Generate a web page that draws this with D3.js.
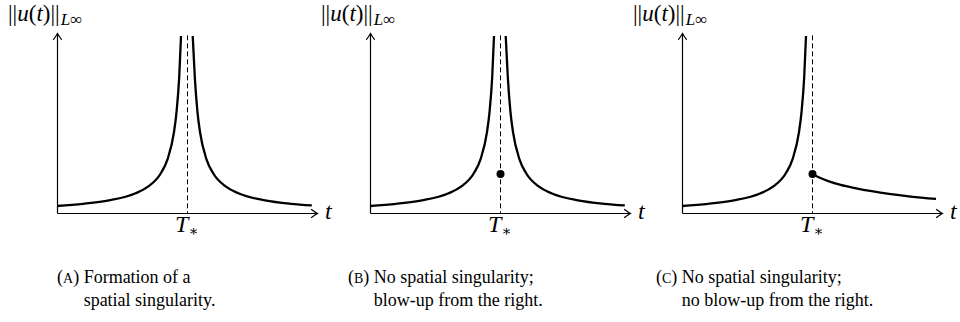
<!DOCTYPE html>
<html><head><meta charset="utf-8">
<script src="https://cdn.jsdelivr.net/npm/d3@7"></script>
<style>
html,body{margin:0;padding:0;background:#fff;}
svg{display:block;}
</style></head>
<body>
<svg id="chart" width="960" height="322"></svg>
<script>
// ---- data ----
const panels = ["A", "B", "C"];
const captionLine1 = ["Formation of a", "No spatial singularity;", "No spatial singularity;"];
const captionLine2 = ["spatial singularity.", "blow-up from the right.", "no blow-up from the right."];
const tStar = 5;
// left branch (blows up as t -> T*), shared by all panels
const tLeft = [0, 1, 2, 3, 3.5, 4, 4.25, 4.5, 4.6, 4.7, 4.77];
const vLeft = [0.39, 0.51, 0.70, 1.08, 1.46, 2.22, 2.98, 4.5, 5.65, 7.55, 9.83];
// right branch with blow-up (panels A, B)
const tRight = [5.22, 5.3, 5.4, 5.5, 5.75, 6, 6.5, 7, 8, 9, 9.8];
const vRight = [9.83, 7.55, 5.65, 4.5, 2.98, 2.22, 1.46, 1.08, 0.70, 0.51, 0.42];
// right branch without blow-up (panel C)
const tRightC = [5, 5.3, 5.65, 6.1, 6.7, 7.3, 7.96, 8.8, 9.77];
const vRightC = [2.17, 1.96, 1.76, 1.56, 1.37, 1.21, 1.06, 0.91, 0.78];
// value at T* (panels B, C)
const dotValue = 2.17;
const xMax = 10, yMax = 10, dashTop = 9.9;

// ---- layout ----
const RM = "'Liberation Serif', 'DejaVu Serif', serif";
const svg = d3.select("#chart");
const originsX = [57, 370, 682];
const axisY = 213, topY = 33, axisLen = 260;

function arrow(g, x, y, angle) {
  g.append("path")
    .attr("d", "M-6,-4 Q-2,-1 0,0 Q-2,1 -6,4")
    .attr("transform", `translate(${x},${y}) rotate(${angle})`)
    .attr("fill", "none").attr("stroke", "#000").attr("stroke-width", 1.2)
    .attr("stroke-linecap", "round");
}

panels.forEach((p, i) => {
  const ox = originsX[i];
  const x = d3.scaleLinear().domain([0, xMax]).range([ox, ox + axisLen]);
  const y = d3.scaleLinear().domain([0, yMax]).range([axisY, topY]);
  const g = svg.append("g");
  const crisp = g.append("g").attr("transform", "translate(0.5,0.5)");

  crisp.append("line")
    .attr("x1", x(tStar)).attr("x2", x(tStar))
    .attr("y1", y(dashTop)).attr("y2", y(0))
    .attr("stroke", "#000").attr("stroke-width", 1)
    .attr("stroke-dasharray", "5,3");

  crisp.append("line").attr("x1", x(0)).attr("x2", x(xMax)).attr("y1", y(0)).attr("y2", y(0))
    .attr("stroke", "#000").attr("stroke-width", 1.2);
  crisp.append("line").attr("x1", x(0)).attr("x2", x(0)).attr("y1", y(0)).attr("y2", y(yMax))
    .attr("stroke", "#000").attr("stroke-width", 1.2);
  arrow(crisp, x(xMax), y(0), 0);
  arrow(crisp, x(0), y(yMax), -90);

  const line = d3.line().x(d => x(d[0])).y(d => y(d[1])).curve(d3.curveMonotoneX);
  const draw = (ts, vs) => g.append("path")
    .attr("d", line(ts.map((t, k) => [t, vs[k]])))
    .attr("fill", "none").attr("stroke", "#000").attr("stroke-width", 2.3);

  draw(tLeft, vLeft);
  if (p === "C") draw(tRightC, vRightC); else draw(tRight, vRight);
  if (p !== "A") {
    g.append("circle").attr("cx", x(tStar) + 0.5).attr("cy", y(dotValue)).attr("r", 4).attr("fill", "#000");
  }

  // y label ||u(t)||_{L∞}
  const yl = g.append("text").attr("x", ox - 49).attr("y", 21).attr("font-size", 23)
    .attr("font-family", RM);
  yl.append("tspan").text("||");
  yl.append("tspan").attr("font-style", "italic").text("u");
  yl.append("tspan").text("(");
  yl.append("tspan").attr("font-style", "italic").text("t");
  yl.append("tspan").text(")||");
  yl.append("tspan").attr("font-style", "italic").attr("font-size", 17).attr("dy", 4).attr("dx", 1).text("L");
  yl.append("tspan").attr("font-size", 17).text("\u221E");

  g.append("text").attr("font-family", RM).attr("font-style", "italic")
    .attr("x", x(xMax) + 8).attr("y", y(0) + 6).attr("font-size", 24).text("t");

  const tl = g.append("text").attr("font-family", RM).attr("x", x(tStar) - 12).attr("y", 232).attr("font-size", 24);
  tl.append("tspan").attr("font-style", "italic").text("T");
  tl.append("tspan").attr("font-size", 15).attr("dy", 4).text("\u2217");

  const cx = ox + (i === 0 ? 0 : (i === 1 ? -22 : -26));
  const c1 = g.append("text").attr("font-family", RM).attr("x", cx).attr("y", 283).attr("font-size", 18);
  c1.append("tspan").text("(");
  c1.append("tspan").attr("font-size", 14).text(p);
  c1.append("tspan").text(") ");
  const pre = c1.append("tspan").text(captionLine1[i]);
  const lblWidth = c1.node().getComputedTextLength() - pre.node().getComputedTextLength();
  g.append("text").attr("font-family", RM).attr("x", cx + lblWidth).attr("y", 306)
    .attr("font-size", 18).text(captionLine2[i]);
});
</script>
</body></html>
